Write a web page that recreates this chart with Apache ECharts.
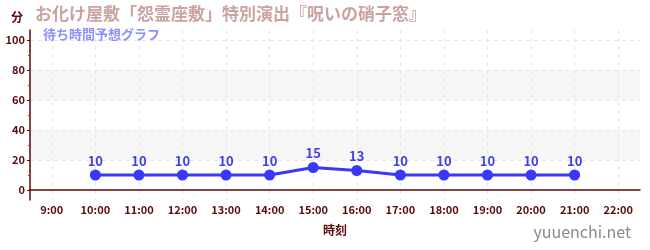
<!DOCTYPE html>
<html>
<head>
<meta charset="utf-8">
<script src="https://cdn.jsdelivr.net/npm/echarts@6/dist/echarts.min.js"></script>
<style>
  html, body { margin: 0; padding: 0; background: #fff; }
  #chart { width: 650px; height: 250px; }
</style>
</head>
<body>
<div id="chart"></div>
<script>
// 時刻ごとの待ち時間（分）
var hours = ["9:00", "10:00", "11:00", "12:00", "13:00", "14:00", "15:00",
             "16:00", "17:00", "18:00", "19:00", "20:00", "21:00", "22:00"];
var waitMinutes = [null, 10, 10, 10, 10, 10, 15, 13, 10, 10, 10, 10, 10, null];
var yTicks = { min: 0, max: 100, step: 20 };

var titleText = "お化け屋敷「怨霊座敷」特別演出『呪いの硝子窓』";
var subText = "待ち時間予想グラフ";
var font = "Noto Sans CJK JP";
var dark = "#5a0a0a";

// plot area
var plotLeft = 30, plotRight = 10;
// half a category band, so the vertical grid sits on the labels
var halfBand = (650 - plotLeft - plotRight) / hours.length / 2;

var chart = echarts.init(document.getElementById("chart"));

var option = {
    animation: false,
    textStyle: { fontFamily: font },
    title: [
        {
            text: titleText,
            left: 30,
            top: 0,
            textStyle: { color: "#c9a2a2", fontSize: 17, fontWeight: "bold", fontFamily: font }
        },
        {
            text: subText,
            left: 38,
            top: 23,
            textStyle: { color: "#8f8fff", fontSize: 13, fontWeight: "bold", fontFamily: font }
        },
        {
            text: "yuuenchi.net",
            right: 14,
            bottom: 5,
            textStyle: { color: "#8a8a8a", fontSize: 16, fontWeight: "normal", fontFamily: font }
        }
    ],
    grid: [
        // plot frame (axis lines, series)
        { left: plotLeft, right: plotRight, top: 30, bottom: 50 },
        // value ticks 0..100
        { left: plotLeft, right: plotRight, top: 40, bottom: 60 },
        // vertical dashed grid through the category centres
        { left: plotLeft + halfBand, right: plotRight + halfBand, top: 30, bottom: 50 }
    ],
    xAxis: [
        {
            gridIndex: 0,
            type: "category",
            data: hours,
            boundaryGap: true,
            name: "時刻",
            nameLocation: "middle",
            nameGap: 24,
            nameTextStyle: { color: dark, fontSize: 12, fontWeight: "bold" },
            axisLine: { lineStyle: { color: dark, width: 1.5 } },
            axisTick: { alignWithLabel: true, length: 3, lineStyle: { color: dark } },
            axisLabel: { color: dark, fontSize: 11, fontWeight: "bold", margin: 4 },
            splitLine: { show: false }
        },
        {
            gridIndex: 1,
            type: "category",
            data: hours,
            show: false
        },
        {
            gridIndex: 2,
            type: "category",
            data: hours,
            boundaryGap: false,
            axisLine: { show: false },
            axisTick: { show: false },
            axisLabel: { show: false },
            splitLine: { show: true, lineStyle: { color: "#e6e6e6", type: [4, 4] } }
        }
    ],
    yAxis: [
        {
            gridIndex: 0,
            type: "value",
            min: -20 / 3,
            max: 320 / 3,
            name: "分",
            nameLocation: "end",
            nameGap: 7,
            nameTextStyle: { color: dark, fontSize: 12, fontWeight: "bold", align: "right", padding: [0, 7, 0, 0] },
            axisLine: { show: true, lineStyle: { color: dark, width: 1.5 } },
            axisTick: { show: false },
            axisLabel: { show: false },
            splitLine: { show: false }
        },
        {
            gridIndex: 1,
            type: "value",
            min: yTicks.min,
            max: yTicks.max,
            interval: yTicks.step,
            axisLine: { show: false },
            axisTick: { show: true, length: 3, lineStyle: { color: dark } },
            minorTick: { show: true, splitNumber: 2, length: 2, lineStyle: { color: "#dd2222" } },
            axisLabel: { color: dark, fontSize: 11, fontWeight: "bold", margin: 5 },
            splitLine: { show: true, lineStyle: { color: "#e6e6e6", type: [4, 4] } },
            splitArea: { show: true, areaStyle: { color: ["rgba(255,255,255,0)", "#f6f6f6"] } }
        },
        {
            gridIndex: 2,
            type: "value",
            show: false
        }
    ],
    series: [
        {
            name: "待ち時間",
            type: "line",
            xAxisIndex: 0,
            yAxisIndex: 0,
            data: waitMinutes,
            symbol: "circle",
            symbolSize: 11,
            lineStyle: { color: "#3838f8", width: 3 },
            itemStyle: { color: "#3838f8" },
            label: {
                show: true,
                position: "top",
                distance: 2,
                color: "#4040e8",
                fontSize: 13,
                fontWeight: "bold"
            }
        }
    ]
};

chart.setOption(option);
</script>
</body>
</html>
